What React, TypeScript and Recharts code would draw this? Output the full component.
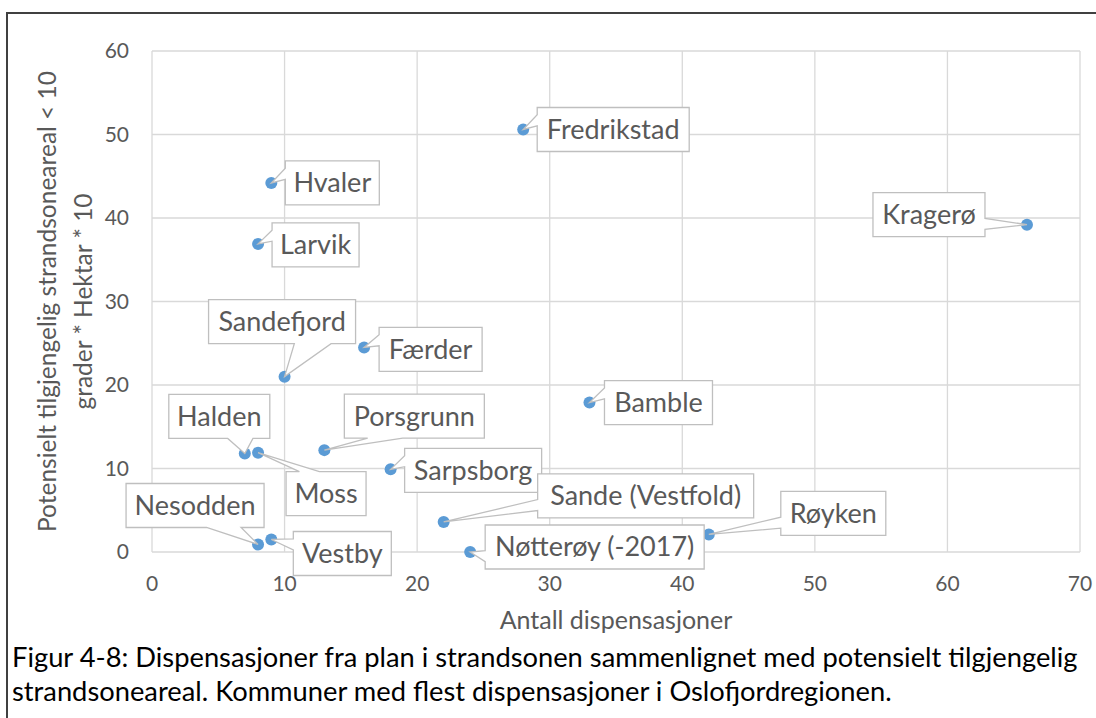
import React from 'react';
import { ScatterChart, Scatter, XAxis, YAxis, CartesianGrid, Label } from 'recharts';

// kommuner, antall dispensasjoner og potensielt tilgjengelig areal
const names = [
	'Fredrikstad',
	'Hvaler',
	'Larvik',
	'Kragerø',
	'Sandefjord',
	'Færder',
	'Bamble',
	'Halden',
	'Moss',
	'Porsgrunn',
	'Sarpsborg',
	'Sande (Vestfold)',
	'Røyken',
	'Nesodden',
	'Vestby',
	'Nøtterøy (-2017)',
];
const dispensasjoner = [28, 9, 8, 66, 10, 16, 33, 7, 8, 13, 18, 22, 42, 8, 9, 24];
const areal = [50.6, 44.2, 36.9, 39.2, 21.0, 24.5, 17.9, 11.8, 11.9, 12.2, 9.9, 3.6, 2.1, 0.9, 1.5, 0.0];

const xTicks = [0, 10, 20, 30, 40, 50, 60, 70];
const yTicks = [0, 10, 20, 30, 40, 50, 60];

const xTitle = 'Antall dispensasjoner';
const yTitleLines = ['Potensielt tilgjengelig strandsoneareal < 10', 'grader * Hektar * 10'];
const captionLines = [
	'Figur 4-8: Dispensasjoner fra plan i strandsonen sammenlignet med potensielt tilgjengelig',
	'strandsoneareal. Kommuner med flest dispensasjoner i Oslofjordregionen.',
];

const FONT = 'Lato, "Open Sans", sans-serif';
const UP: [number, number] = [2 / 12, 5 / 12];
const DOWN: [number, number] = [7 / 12, 10 / 12];

type Edge = 'L' | 'R' | 'T' | 'B';
type Callout = { dx: number; dy: number; w: number; edge: Edge; base: [number, number] };

// placement of each data label box relative to its point
const callouts: Record<string, Callout> = {
	Fredrikstad: { dx: 14, dy: -22, w: 152, edge: 'L', base: UP },
	Hvaler: { dx: 14, dy: -22, w: 94, edge: 'L', base: UP },
	Larvik: { dx: 14, dy: -21, w: 87, edge: 'L', base: UP },
	Kragerø: { dx: -154, dy: -32, w: 112, edge: 'R', base: DOWN },
	Sandefjord: { dx: -76, dy: -77, w: 147, edge: 'B', base: DOWN },
	Færder: { dx: 15, dy: -20, w: 103, edge: 'L', base: UP },
	Bamble: { dx: 15, dy: -22, w: 108, edge: 'L', base: UP },
	Halden: { dx: -76, dy: -59, w: 101, edge: 'B', base: DOWN },
	Moss: { dx: 28, dy: 19, w: 80, edge: 'T', base: UP },
	Porsgrunn: { dx: 20, dy: -56, w: 140, edge: 'B', base: UP },
	Sarpsborg: { dx: 14, dy: -21, w: 137, edge: 'L', base: UP },
	'Sande (Vestfold)': { dx: 94, dy: -48, w: 216, edge: 'L', base: DOWN },
	Røyken: { dx: 72, dy: -43, w: 105, edge: 'L', base: DOWN },
	Nesodden: { dx: -132, dy: -61, w: 138, edge: 'B', base: DOWN },
	Vestby: { dx: 22, dy: -8, w: 98, edge: 'L', base: UP },
	'Nøtterøy (-2017)': { dx: 15, dy: -27, w: 219, edge: 'L', base: DOWN },
};
const BOX_H = 44;

const data = names.map((name, i) => ({ name, x: dispensasjoner[i], y: areal[i] }));

function calloutPath(cx: number, cy: number, c: Callout) {
	const x0 = cx + c.dx;
	const y0 = cy + c.dy;
	const x1 = x0 + c.w;
	const y1 = y0 + BOX_H;
	const [a, b] = c.base;
	const tip = `${cx},${cy}`;
	switch (c.edge) {
		case 'T':
			return `M${x0},${y0} L${x0 + c.w * a},${y0} L${tip} L${x0 + c.w * b},${y0} L${x1},${y0} L${x1},${y1} L${x0},${y1} Z`;
		case 'R':
			return `M${x0},${y0} L${x1},${y0} L${x1},${y0 + BOX_H * a} L${tip} L${x1},${y0 + BOX_H * b} L${x1},${y1} L${x0},${y1} Z`;
		case 'B':
			return `M${x0},${y0} L${x1},${y0} L${x1},${y1} L${x0 + c.w * b},${y1} L${tip} L${x0 + c.w * a},${y1} L${x0},${y1} Z`;
		default:
			return `M${x0},${y0} L${x1},${y0} L${x1},${y1} L${x0},${y1} L${x0},${y0 + BOX_H * b} L${tip} L${x0},${y0 + BOX_H * a} Z`;
	}
}

function Dot(props: any) {
	return (
		<circle
			cx={props.cx}
			cy={props.cy}
			r={6}
			fill='#5B9BD5'
		/>
	);
}

function CalloutShape(props: any) {
	const { cx, cy, payload } = props;
	const c = callouts[payload.name];
	if (!c) return null;
	return (
		<g>
			<path
				d={calloutPath(cx, cy, c)}
				fill='#FFFFFF'
				stroke='#BFBFBF'
				strokeWidth={1.3}
			/>
			<text
				x={cx + c.dx + c.w / 2}
				y={cy + c.dy + BOX_H / 2}
				dy='0.35em'
				textAnchor='middle'
				fontSize={27}
				fontFamily={FONT}
				fill='#595959'>
				{payload.name}
			</text>
		</g>
	);
}

function YTitle(props: any) {
	const vb = props.viewBox || { y: 51, height: 501 };
	const cy = vb.y + vb.height / 2;
	const xs = [47, 83];
	return (
		<g>
			{yTitleLines.map((line, i) => (
				<text
					key={line}
					x={xs[i]}
					y={cy}
					dy='0.35em'
					textAnchor='middle'
					transform={`rotate(-90, ${xs[i]}, ${cy})`}
					fontSize={24.5}
					fontFamily={FONT}
					fill='#595959'>
					{line}
				</text>
			))}
		</g>
	);
}

function XTitle(props: any) {
	const vb = props.viewBox || { x: 152, width: 928 };
	return (
		<text
			x={vb.x + vb.width / 2}
			y={629}
			textAnchor='middle'
			fontSize={25}
			fontFamily={FONT}
			fill='#595959'>
			{xTitle}
		</text>
	);
}

const tickStyle = { fill: '#595959', fontSize: 21, fontFamily: FONT };

export default function App() {
	return (
		<div
			style={{
				position: 'absolute',
				left: 0,
				top: 0,
				width: 1096,
				height: 718,
				overflow: 'hidden',
				background: '#FFFFFF',
			}}>
			<div
				style={{
					position: 'absolute',
					left: 6,
					top: 12,
					width: 1090,
					height: 706,
					boxSizing: 'border-box',
					borderTop: '2px solid #404040',
					borderLeft: '2px solid #404040',
				}}
			/>
			<div style={{ position: 'absolute', left: 0, top: 0 }}>
				<ScatterChart
					width={1096}
					height={640}
					margin={{ top: 51, right: 16, bottom: 28, left: 0 }}>
					<CartesianGrid
						stroke='#D9D9D9'
						strokeWidth={1.3}
					/>
					<XAxis
						type='number'
						dataKey='x'
						domain={[0, 70]}
						ticks={xTicks}
						height={60}
						tickLine={false}
						axisLine={false}
						tickSize={0}
						tickMargin={24}
						tick={tickStyle}
						interval={0}>
						<Label content={XTitle} />
					</XAxis>
					<YAxis
						type='number'
						dataKey='y'
						domain={[0, 60]}
						ticks={yTicks}
						width={152}
						tickLine={false}
						axisLine={false}
						tickSize={0}
						tickMargin={23}
						tick={tickStyle}
						interval={0}>
						<Label content={YTitle} />
					</YAxis>
					<Scatter
						data={data}
						shape={Dot}
						isAnimationActive={false}
					/>
					<Scatter
						data={data}
						shape={CalloutShape}
						isAnimationActive={false}
					/>
				</ScatterChart>
			</div>
			<div
				style={{
					position: 'absolute',
					left: 12,
					top: 640,
					fontFamily: FONT,
					fontSize: 27.3,
					lineHeight: '34px',
					color: '#000000',
					whiteSpace: 'nowrap',
				}}>
				{captionLines.map((line) => (
					<div key={line}>{line}</div>
				))}
			</div>
		</div>
	);
}
